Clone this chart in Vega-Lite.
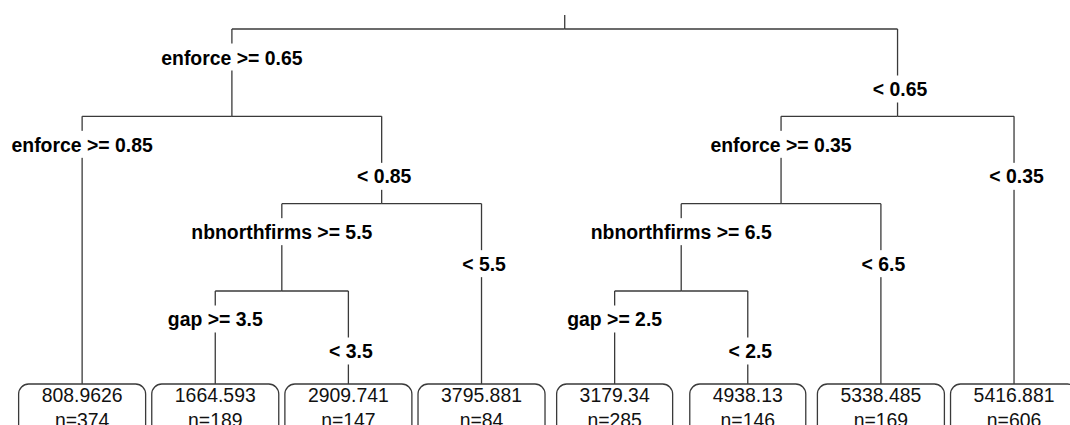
{
  "$schema": "https://vega.github.io/schema/vega-lite/v6.json",
  "width": 1070,
  "height": 425,
  "autosize": {"type": "fit", "contains": "padding"},
  "padding": 0,
  "background": "white",
  "config": {"view": {"stroke": null}},
  "data": {
    "values": [
      {"id": "root", "label": "", "side": "", "x": 4.625, "depth": 0, "px": 4.625, "pdepth": 0, "leaf": false, "value": "", "nlabel": ""},
      {"id": "A", "label": "enforce >= 0.65", "side": "L", "x": 2.125, "depth": 1, "px": 4.625, "pdepth": 0, "leaf": false, "value": "", "nlabel": ""},
      {"id": "B", "label": "< 0.65", "side": "R", "x": 7.125, "depth": 1, "px": 4.625, "pdepth": 0, "leaf": false, "value": "", "nlabel": ""},
      {"id": "AL", "label": "enforce >= 0.85", "side": "L", "x": 1, "depth": 4, "px": 2.125, "pdepth": 1, "leaf": true, "value": "808.9626", "nlabel": "n=374"},
      {"id": "AR", "label": "< 0.85", "side": "R", "x": 3.25, "depth": 2, "px": 2.125, "pdepth": 1, "leaf": false, "value": "", "nlabel": ""},
      {"id": "ARL", "label": "nbnorthfirms >= 5.5", "side": "L", "x": 2.5, "depth": 3, "px": 3.25, "pdepth": 2, "leaf": false, "value": "", "nlabel": ""},
      {"id": "ARR", "label": "< 5.5", "side": "R", "x": 4, "depth": 4, "px": 3.25, "pdepth": 2, "leaf": true, "value": "3795.881", "nlabel": "n=84"},
      {"id": "ARLL", "label": "gap >= 3.5", "side": "L", "x": 2, "depth": 4, "px": 2.5, "pdepth": 3, "leaf": true, "value": "1664.593", "nlabel": "n=189"},
      {"id": "ARLR", "label": "< 3.5", "side": "R", "x": 3, "depth": 4, "px": 2.5, "pdepth": 3, "leaf": true, "value": "2909.741", "nlabel": "n=147"},
      {"id": "BL", "label": "enforce >= 0.35", "side": "L", "x": 6.25, "depth": 2, "px": 7.125, "pdepth": 1, "leaf": false, "value": "", "nlabel": ""},
      {"id": "BR", "label": "< 0.35", "side": "R", "x": 8, "depth": 4, "px": 7.125, "pdepth": 1, "leaf": true, "value": "5416.881", "nlabel": "n=606"},
      {"id": "BLL", "label": "nbnorthfirms >= 6.5", "side": "L", "x": 5.5, "depth": 3, "px": 6.25, "pdepth": 2, "leaf": false, "value": "", "nlabel": ""},
      {"id": "BLR", "label": "< 6.5", "side": "R", "x": 7, "depth": 4, "px": 6.25, "pdepth": 2, "leaf": true, "value": "5338.485", "nlabel": "n=169"},
      {"id": "BLLL", "label": "gap >= 2.5", "side": "L", "x": 5, "depth": 4, "px": 5.5, "pdepth": 3, "leaf": true, "value": "3179.34", "nlabel": "n=285"},
      {"id": "BLLR", "label": "< 2.5", "side": "R", "x": 6, "depth": 4, "px": 5.5, "pdepth": 3, "leaf": true, "value": "4938.13", "nlabel": "n=146"}
    ]
  },
  "encoding": {
    "x": {"field": "x", "type": "quantitative", "scale": {"domain": [0.3831, 8.4204], "nice": false, "zero": false}, "axis": null}
  },
  "layer": [
    {
      "transform": [{"filter": "datum.id === 'root'"}],
      "mark": {"type": "rule", "color": "#3a3a3a", "strokeWidth": 1.3, "y2Offset": -14},
      "encoding": {
        "y": {"field": "depth", "type": "quantitative", "scale": {"domain": [-0.3321, 4.5345], "reverse": true, "nice": false, "zero": false}, "axis": null},
        "y2": {"field": "depth"}
      }
    },
    {
      "transform": [{"filter": "datum.id !== 'root' && !datum.leaf"}],
      "mark": {"type": "rule", "color": "#3a3a3a", "strokeWidth": 1.3},
      "encoding": {
        "y": {"field": "pdepth", "type": "quantitative", "scale": {"domain": [-0.3321, 4.5345], "reverse": true, "nice": false, "zero": false}, "axis": null},
        "y2": {"field": "depth"}
      }
    },
    {
      "transform": [{"filter": "datum.leaf"}],
      "mark": {"type": "rule", "color": "#3a3a3a", "strokeWidth": 1.3, "y2Offset": 5.7},
      "encoding": {
        "y": {"field": "pdepth", "type": "quantitative", "scale": {"domain": [-0.3321, 4.5345], "reverse": true, "nice": false, "zero": false}, "axis": null},
        "y2": {"field": "depth"}
      }
    },
    {
      "transform": [{"filter": "datum.id !== 'root'"}],
      "mark": {"type": "rule", "color": "#3a3a3a", "strokeWidth": 1.3},
      "encoding": {
        "x2": {"field": "px"},
        "y": {"field": "pdepth", "type": "quantitative", "scale": {"domain": [-0.3321, 4.5345], "reverse": true, "nice": false, "zero": false}, "axis": null}
      }
    },
    {
      "transform": [{"filter": "datum.side === 'L'"}],
      "mark": {"type": "rule", "color": "white", "strokeWidth": 5, "yOffset": 14.5, "y2Offset": 41.5},
      "encoding": {
        "y": {"field": "pdepth", "type": "quantitative", "scale": {"domain": [-0.3321, 4.5345], "reverse": true, "nice": false, "zero": false}, "axis": null},
        "y2": {"field": "pdepth"}
      }
    },
    {
      "transform": [{"filter": "datum.side === 'R'"}],
      "mark": {"type": "rule", "color": "white", "strokeWidth": 5, "yOffset": 46.5, "y2Offset": 73.5},
      "encoding": {
        "y": {"field": "pdepth", "type": "quantitative", "scale": {"domain": [-0.3321, 4.5345], "reverse": true, "nice": false, "zero": false}, "axis": null},
        "y2": {"field": "pdepth"}
      }
    },
    {
      "transform": [{"filter": "datum.side === 'L'"}],
      "mark": {"type": "text", "font": "Liberation Sans", "fontWeight": "bold", "fontSize": 19.4, "color": "black", "align": "center", "baseline": "alphabetic", "dy": 35.5},
      "encoding": {
        "y": {"field": "pdepth", "type": "quantitative", "scale": {"domain": [-0.3321, 4.5345], "reverse": true, "nice": false, "zero": false}, "axis": null},
        "text": {"field": "label"}
      }
    },
    {
      "transform": [{"filter": "datum.side === 'R'"}],
      "mark": {"type": "text", "font": "Liberation Sans", "fontWeight": "bold", "fontSize": 19.4, "color": "black", "align": "center", "baseline": "alphabetic", "dy": 67, "dx": 2.5},
      "encoding": {
        "y": {"field": "pdepth", "type": "quantitative", "scale": {"domain": [-0.3321, 4.5345], "reverse": true, "nice": false, "zero": false}, "axis": null},
        "text": {"field": "label"}
      }
    },
    {
      "transform": [{"filter": "datum.leaf && length(datum.value) == 8"}],
      "mark": {"type": "rect", "fill": "white", "stroke": "#3a3a3a", "strokeWidth": 1.3, "cornerRadius": 10, "xOffset": -63.5, "x2Offset": 63.5, "yOffset": 5.7, "y2Offset": 80, "clip": true},
      "encoding": {
        "x2": {"field": "x"},
        "y": {"field": "depth", "type": "quantitative", "scale": {"domain": [-0.3321, 4.5345], "reverse": true, "nice": false, "zero": false}, "axis": null},
        "y2": {"field": "depth"}
      }
    },
    {
      "transform": [{"filter": "datum.leaf && length(datum.value) == 7"}],
      "mark": {"type": "rect", "fill": "white", "stroke": "#3a3a3a", "strokeWidth": 1.3, "cornerRadius": 10, "xOffset": -58, "x2Offset": 58, "yOffset": 5.7, "y2Offset": 80, "clip": true},
      "encoding": {
        "x2": {"field": "x"},
        "y": {"field": "depth", "type": "quantitative", "scale": {"domain": [-0.3321, 4.5345], "reverse": true, "nice": false, "zero": false}, "axis": null},
        "y2": {"field": "depth"}
      }
    },
    {
      "transform": [{"filter": "datum.leaf"}],
      "mark": {"type": "text", "font": "Liberation Sans", "fontSize": 19.4, "color": "#111111", "align": "center", "baseline": "alphabetic", "dy": 23.7, "clip": true},
      "encoding": {
        "y": {"field": "depth", "type": "quantitative", "scale": {"domain": [-0.3321, 4.5345], "reverse": true, "nice": false, "zero": false}, "axis": null},
        "text": {"field": "value"}
      }
    },
    {
      "transform": [{"filter": "datum.leaf"}],
      "mark": {"type": "text", "font": "Liberation Sans", "fontSize": 19.4, "color": "#111111", "align": "center", "baseline": "alphabetic", "dy": 48.7, "clip": true},
      "encoding": {
        "y": {"field": "depth", "type": "quantitative", "scale": {"domain": [-0.3321, 4.5345], "reverse": true, "nice": false, "zero": false}, "axis": null},
        "text": {"field": "nlabel"}
      }
    }
  ]
}
